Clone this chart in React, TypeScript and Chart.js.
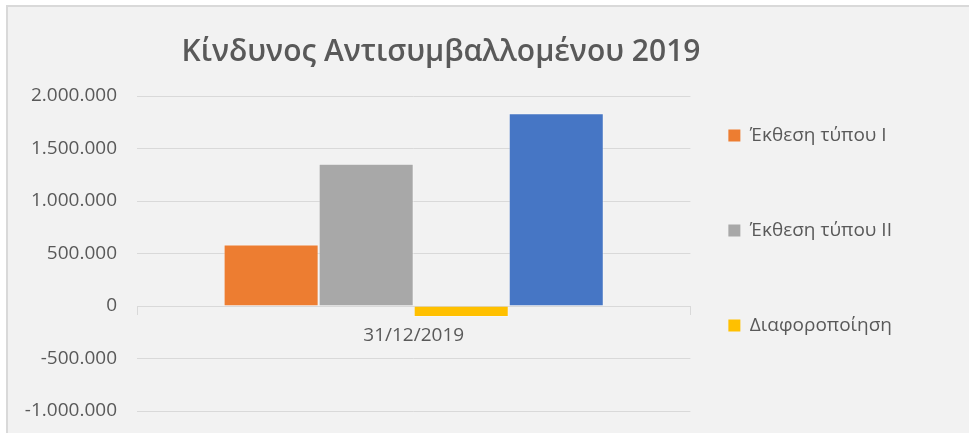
import React, { useEffect, useRef } from "react";
import { Chart, registerables } from "chart.js";

Chart.register(...registerables);

const TITLE = "Κίνδυνος Αντισυμβαλλομένου 2019";
const categories = ["31/12/2019"];
const seriesNames = ["Έκθεση τύπου I", "Έκθεση τύπου II", "Διαφοροποίηση", "Σύνολο"];
const exposureI = [586000];
const exposureII = [1355000];
const diversification = [-105000];
const total = [1836000];
const seriesColors = ["#ED7D31", "#A8A8A8", "#FFC000", "#4676C5"];
const yMin = -1000000;
const yMax = 2000000;
const yStep = 500000;

const FONT = "'Open Sans', 'Noto Sans', sans-serif";
const TEXT = "#595959";
const GRID = "#d9d9d9";

function fmt(v: number): string {
  const s = String(Math.abs(Math.round(v))).replace(/\B(?=(\d{3})+(?!\d))/g, ".");
  return (v < 0 ? "-" : "") + s;
}

export default function App() {
  const ref = useRef<HTMLCanvasElement | null>(null);

  useEffect(() => {
    if (!ref.current) return;
    const values = [exposureI, exposureII, diversification, total];
    const chart = new Chart(ref.current, {
      type: "bar",
      data: {
        labels: categories,
        datasets: values.map((d, i) => ({
          label: seriesNames[i],
          data: d,
          backgroundColor: seriesColors[i],
          borderWidth: 1,
          borderColor: "rgba(255,255,255,0.35)",
          barPercentage: 1,
          categoryPercentage: 0.687,
        })),
      },
      options: {
        responsive: false,
        animation: false,
        layout: { padding: { left: -28, right: 67, top: 0, bottom: 22 } },
        plugins: {
          tooltip: { enabled: false },
          title: {
            display: true,
            text: TITLE,
            color: TEXT,
            font: { family: FONT, size: 30, weight: "600", lineHeight: 1.2 },
            padding: { top: 27, bottom: 26 },
          },
          legend: {
            display: true,
            position: "right",
            align: "end",
            labels: {
              color: TEXT,
              font: { family: FONT, size: 19, lineHeight: 1.0 },
              boxWidth: 12,
              boxHeight: 12,
              padding: 38,
              generateLabels: (c: any) => {
                const items = Chart.defaults.plugins.legend.labels.generateLabels(c);
                return items.map((it: any) => ({ ...it, lineWidth: 0, text: [it.text, "", ""] }));
              },
              filter: (item: any) => item.datasetIndex < 3,
            },
          },
        },
        scales: {
          x: {
            position: { y: 0 } as any,
            grid: {
              display: true,
              drawOnChartArea: false,
              drawTicks: true,
              tickLength: 8,
              color: GRID,
            },
            border: { display: true, color: GRID },
            ticks: {
              color: TEXT,
              font: { family: FONT, size: 19 },
              padding: 10,
            },
          },
          y: {
            min: yMin,
            max: yMax,
            afterFit: (s: any) => {
              s.width = 157;
            },
            grid: {
              color: GRID,
              drawTicks: true,
              tickLength: 20,
              tickColor: "rgba(0,0,0,0)",
              lineWidth: 1,
            },
            border: { display: false },
            ticks: {
              stepSize: yStep,
              color: TEXT,
              font: { family: FONT, size: 19 },
              padding: 0,
              callback: (v: any) => fmt(Number(v)),
            },
          },
        },
      },
    });
    return () => chart.destroy();
  }, []);

  return (
    <div
      style={{
        position: "fixed",
        left: 0,
        top: 0,
        width: 969,
        height: 433,
        background: "#ffffff",
        overflow: "hidden",
      }}
    >
      <div
        style={{
          position: "absolute",
          left: 6,
          top: 5,
          width: 963,
          height: 428,
          boxSizing: "border-box",
          borderLeft: "2px solid #d9d9d9",
          borderTop: "2px solid #d9d9d9",
          background: "#f2f2f2",
        }}
      >
        <canvas ref={ref} width={961} height={426} style={{ display: "block" }} />
      </div>
    </div>
  );
}
